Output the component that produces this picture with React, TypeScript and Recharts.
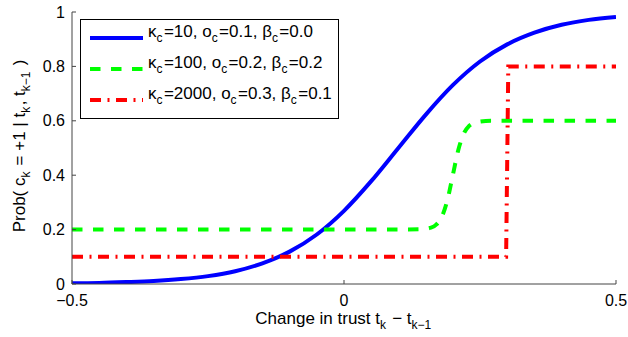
import { LineChart, Line, XAxis, YAxis } from "recharts"

const FONT = "'Liberation Sans', Arial, Helvetica, sans-serif"
const AXIS = "#444"

// tick values
const xTicks = [-0.5, 0, 0.5]
const yTicks = [0, 0.2, 0.4, 0.6, 0.8, 1]

// kappa=10, o=0.1, beta=0.0
const blueX = [-0.5, -0.45, -0.4, -0.35, -0.3, -0.25, -0.2, -0.15, -0.1, -0.05, 0, 0.05, 0.1, 0.15, 0.2, 0.25, 0.3, 0.35, 0.4, 0.45, 0.5]
const blueY = [0.003, 0.004, 0.007, 0.011, 0.018, 0.029, 0.047, 0.076, 0.119, 0.182, 0.269, 0.378, 0.5, 0.622, 0.731, 0.818, 0.881, 0.924, 0.953, 0.971, 0.982]

// kappa=100, o=0.2, beta=0.2
const greenX = [-0.5, 0.1, 0.14, 0.16, 0.17, 0.18, 0.19, 0.2, 0.21, 0.22, 0.23, 0.24, 0.25, 0.27, 0.5]
const greenY = [0.2, 0.2, 0.201, 0.207, 0.219, 0.248, 0.308, 0.4, 0.492, 0.552, 0.581, 0.593, 0.597, 0.6, 0.6]

// kappa=2000, o=0.3, beta=0.1
const redX = [-0.5, 0.298, 0.3, 0.302, 0.5]
const redY = [0.1, 0.1, 0.45, 0.8, 0.8]

const toRows = (xs: number[], ys: number[]) => xs.map((x, i) => ({ x, y: ys[i] }))

const fmt = (v: number) => (v < 0 ? `\u2212${-v}` : `${v}`)

function YTick({ x, y, payload }: any) {
  return (
    <g>
      <line x1={x + 7} x2={x + 11} y1={y} y2={y} stroke={AXIS} />
      <text x={x} y={y} dy="0.35em" textAnchor="end" fontSize={16} fontFamily={FONT} fill="#000">
        {fmt(payload.value)}
      </text>
    </g>
  )
}

function XTick({ x, y, payload }: any) {
  return (
    <g>
      <line x1={x} x2={x} y1={y - 10} y2={y - 14} stroke={AXIS} />
      <text x={x} y={y} dy="0.72em" textAnchor="middle" fontSize={16} fontFamily={FONT} fill="#000">
        {fmt(payload.value)}
      </text>
    </g>
  )
}

const Sub = ({ children }: { children: string }) => (
  <>
    <tspan dy={5} fontSize={12}>{children}</tspan>
    <tspan dy={-5}>{"\u200a"}</tspan>
  </>
)

function XLabel({ viewBox }: any) {
  const cx = viewBox.x + viewBox.width / 2
  return (
    <text x={cx} y={viewBox.y + 40} textAnchor="middle" fontSize={17} fontFamily={FONT} fill="#000">
      Change in trust t<Sub>k</Sub> {"\u2212"} t<Sub>k{"\u2212"}1</Sub>
    </text>
  )
}

function YLabel({ viewBox }: any) {
  const cx = viewBox.x + 3
  const cy = viewBox.y + viewBox.height / 2 - 2
  return (
    <text x={cx} y={cy} transform={`rotate(-90 ${cx} ${cy})`} textAnchor="middle" fontSize={17} fontFamily={FONT} fill="#000">
      Prob( c<Sub>k</Sub> = +1 | t<Sub>k</Sub>, t<Sub>k{"\u2212"}1</Sub> )
    </text>
  )
}

const legendItems = [
  { color: "#0000ff", dash: undefined, k: "10", o: "0.1", b: "0.0" },
  { color: "#00ff00", dash: "10.5 10.5", k: "100", o: "0.2", b: "0.2" },
  { color: "#ff0000", dash: "11 6.5 2 6.5", k: "2000", o: "0.3", b: "0.1" },
]

function LegendBox() {
  return (
    <svg width={259} height={100} style={{ position: "absolute", left: 80, top: 19 }}>
      <rect x={0.5} y={0.5} width={258} height={99} fill="#fff" stroke="#000" />
      {legendItems.map((it, i) => {
        const ly = 19 + i * 31
        return (
          <g key={i}>
            <line x1={10} x2={63} y1={ly} y2={ly} stroke={it.color} strokeWidth={4} strokeDasharray={it.dash} />
            <text x={68} y={ly - 1} fontSize={17} fontFamily={FONT} fill="#000">
              {"\u03ba"}<Sub>c</Sub>={it.k}, o<Sub>c</Sub>={it.o}, {"\u03b2"}<Sub>c</Sub>={it.b}
            </text>
          </g>
        )
      })}
    </svg>
  )
}

export default function App() {
  return (
    <div style={{ position: "absolute", left: 0, top: 0, width: 628, height: 337, background: "#fff" }}>
      <LineChart width={628} height={337} margin={{ top: 12, right: 12, left: 22, bottom: 13 }}>
        <XAxis
          type="number"
          dataKey="x"
          domain={[-0.5, 0.5]}
          ticks={xTicks}
          allowDataOverflow
          tickSize={0}
          tickMargin={10}
          height={40}
          stroke={AXIS}
          tick={<XTick />}
          label={{ content: <XLabel /> } as any}
        />
        <YAxis
          type="number"
          domain={[0, 1]}
          ticks={yTicks}
          allowDataOverflow
          tickSize={0}
          tickMargin={7}
          width={50}
          stroke={AXIS}
          tick={<YTick />}
          label={{ content: <YLabel /> } as any}
        />
        <Line data={toRows(blueX, blueY)} dataKey="y" type="monotone" stroke="#0000ff" strokeWidth={4} dot={false} isAnimationActive={false} />
        <Line data={toRows(greenX, greenY)} dataKey="y" type="monotone" stroke="#00ff00" strokeWidth={4} strokeDasharray="10.5 10.5" dot={false} isAnimationActive={false} />
        <Line data={toRows(redX, redY)} dataKey="y" type="linear" stroke="#ff0000" strokeWidth={4} strokeDasharray="11 6.5 2 6.5" dot={false} isAnimationActive={false} />
      </LineChart>
      <LegendBox />
    </div>
  )
}
